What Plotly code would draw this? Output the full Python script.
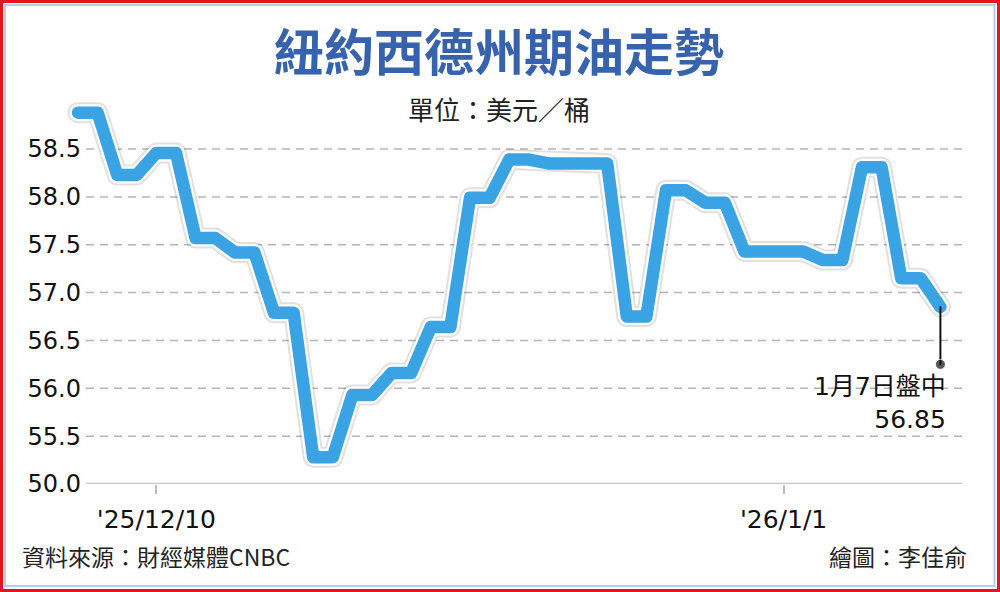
import numpy as np
import plotly.graph_objects as go

# WTI crude futures, USD / barrel (trading days only)
dates = ["2025-12-08", "2025-12-09", "2025-12-10", "2025-12-11", "2025-12-12",
         "2025-12-15", "2025-12-16", "2025-12-17", "2025-12-18", "2025-12-19",
         "2025-12-22", "2025-12-23", "2025-12-24", "2025-12-26", "2025-12-29",
         "2025-12-30", "2025-12-31", "2026-01-02", "2026-01-05", "2026-01-06",
         "2026-01-07"]
prices = [58.88, 58.23, 58.46, 57.57, 57.42, 56.79, 55.28, 55.93, 56.16, 56.64,
          57.99, 58.39, 58.35, 56.75, 58.07, 57.94, 57.43, 57.34, 58.31, 57.15,
          56.85]

# broken y axis: bottom tick reads 50.0
y_tickvals = [55.0, 55.5, 56.0, 56.5, 57.0, 57.5, 58.0, 58.5]
y_ticktext = ["50.0", "55.5", "56.0", "56.5", "57.0", "57.5", "58.0", "58.5"]
x_tickdates = ["2025-12-10", "2026-01-01"]
x_ticktext = ["'25/12/10", "'26/1/1"]

W, H = 1000, 592
L, R, T, B = 60, 38, 100, 108


def px(x):
    return (x - L) / (W - L - R)


def py(y):
    return (H - B - y) / (H - T - B)


# weekday index (holidays keep their slot), each day drawn as a short flat step
start = dates[0]
k = np.busday_count(start, dates)
xs, ys = [], []
for i, v in enumerate(prices):
    xs.append(k[i])
    ys.append(v)
    if i < len(prices) - 1:
        xs.append(k[i + 1] - 0.5)
        ys.append(v)
tick_k = np.busday_count(start, x_tickdates)

fig = go.Figure()
fig.add_trace(go.Scatter(x=xs, y=ys, mode='lines', hoverinfo='skip',
                         line=dict(color='rgba(0,0,0,0.12)', width=21)))
fig.add_trace(go.Scatter(x=xs, y=ys, mode='lines', hoverinfo='skip',
                         line=dict(color='white', width=17)))
fig.add_trace(go.Scatter(x=xs, y=ys, mode='lines', name='WTI',
                         line=dict(color='#3aa3e3', width=12.5)))

# callout for the last quote
label_y = 56.25
fig.add_trace(go.Scatter(
    x=[k[-1], k[-1]], y=[prices[-1], label_y], mode='lines+markers',
    line=dict(color='#111', width=2),
    marker=dict(size=[0, 10], color='#111'), hoverinfo='skip'))
m, d = int(dates[-1][5:7]), int(dates[-1][8:10])
fig.add_annotation(
    x=k[-1], y=label_y, xref='x', yref='y', xanchor='right', yanchor='top',
    xshift=8, yshift=-6, showarrow=False, align='right',
    text=f'{m}月{d}日盤中<br>{prices[-1]:.2f}',
    font=dict(family='DejaVu Sans, Noto Sans CJK TC', size=25, color='#111'))

# dashed grid + solid base line
for v in y_tickvals:
    base = v == y_tickvals[0]
    fig.add_shape(type='line', xref='paper', yref='y', x0=px(86), x1=px(962),
                  y0=v, y1=v, layer='below',
                  line=dict(color='#c8c8c8' if base else '#b4b4b4',
                            width=2.5 if base else 1.5,
                            dash='solid' if base else '8px,6px'))

# frame
fig.add_shape(type='rect', xref='paper', yref='paper', x0=px(1.5), x1=px(998.5),
              y0=py(590.5), y1=py(1.5), line=dict(color='#e8141b', width=3))
fig.add_shape(type='rect', xref='paper', yref='paper', x0=px(5), x1=px(994.5),
              y0=py(586), y1=py(5), line=dict(color='#b3cdea', width=2))

cjk = 'Noto Sans CJK TC'
fig.add_annotation(x=px(499), y=py(108), xref='paper', yref='paper',
                   yanchor='middle', text='單位：美元／桶', showarrow=False,
                   font=dict(family=cjk, size=26, color='#222'))
fig.add_annotation(x=px(20), y=py(556), xref='paper', yref='paper',
                   xanchor='left', yanchor='middle',
                   text='資料來源：財經媒體CNBC', showarrow=False,
                   font=dict(family=cjk, size=23, color='#222'))
fig.add_annotation(x=px(969), y=py(556), xref='paper', yref='paper',
                   xanchor='right', yanchor='middle',
                   text='繪圖：李佳俞', showarrow=False,
                   font=dict(family=cjk, size=23, color='#222'))

fig.update_layout(
    width=W, height=H,
    margin=dict(l=L, r=R, t=T, b=B),
    paper_bgcolor='white', plot_bgcolor='white',
    showlegend=False,
    title=dict(text='紐約西德州期油走勢', x=0.499, xref='container',
               y=1 - 53 / H, yref='container', xanchor='center', yanchor='middle',
               font=dict(family=cjk, size=50, color='#3762ad', weight='bold')),
    xaxis=dict(range=[(L - 78) / 39.2, (W - R - 78) / 39.2],
               tickvals=tick_k, ticktext=x_ticktext,
               ticks='outside', ticklen=9, tickwidth=2, tickcolor='#bdbdbd',
               ticklabelstandoff=4,
               showgrid=False, zeroline=False, showline=False,
               tickfont=dict(family='DejaVu Sans', size=25, color='#111')),
    yaxis=dict(range=[55.0, 55.0 + (H - T - B) / 95.7],
               tickvals=y_tickvals, ticktext=y_ticktext,
               ticks='', ticklabelstandoff=-22,
               showgrid=False, zeroline=False, showline=False,
               tickfont=dict(family='DejaVu Sans', size=24, color='#111')),
)

round_js = """
document.body.style.margin = '0';
var gd = document.getElementById('{plot_id}');
function roundLines() {
  document.querySelectorAll('.scatterlayer path.js-line').forEach(function (p) {
    p.style.strokeLinejoin = 'round';
    p.style.strokeLinecap = 'round';
  });
}
roundLines();
setTimeout(roundLines, 200);
if (gd && gd.on) { gd.on('plotly_afterplot', roundLines); }
"""

fig.write_html("out.html", post_script=round_js,
               config={'displayModeBar': False})
